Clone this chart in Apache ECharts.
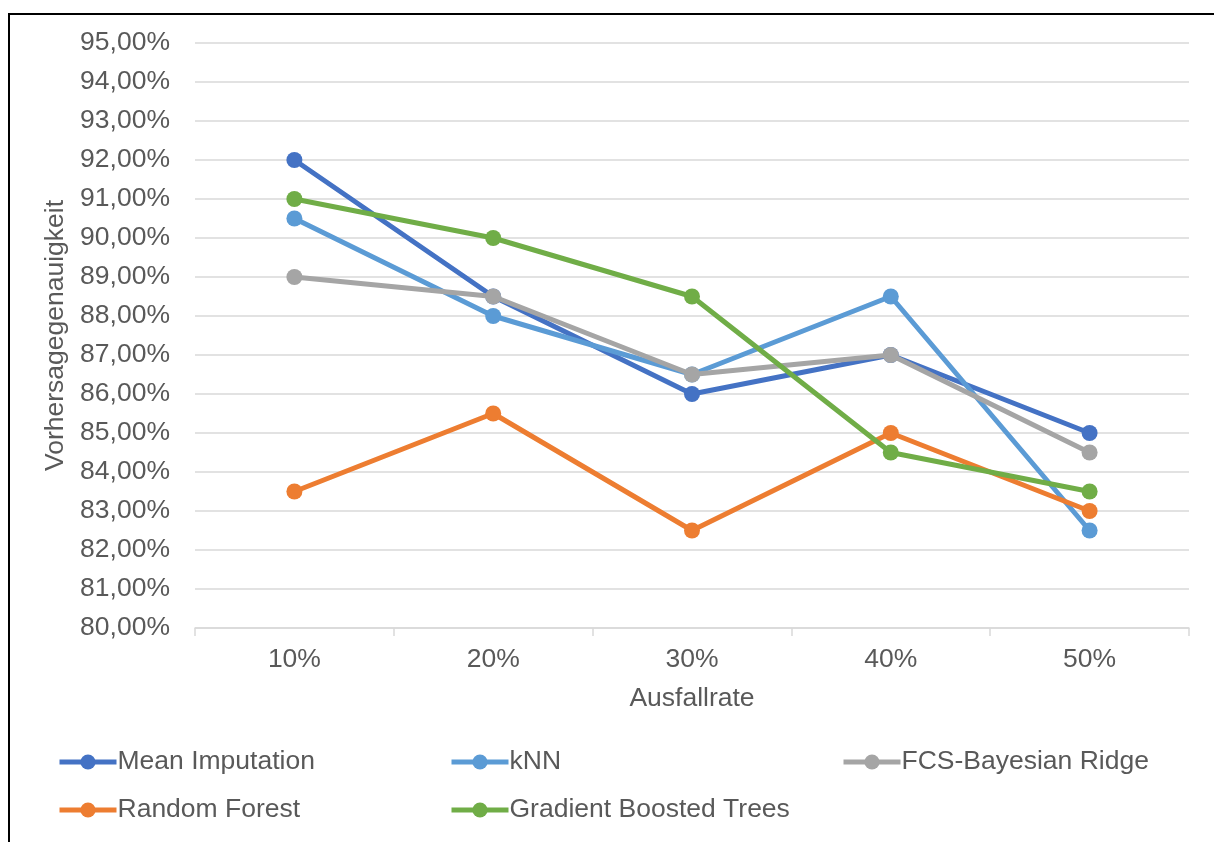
<!DOCTYPE html>
<html>
<head>
<meta charset="utf-8">
<script src="https://cdn.jsdelivr.net/npm/echarts@6/dist/echarts.min.js"></script>
<style>
  html, body { margin: 0; padding: 0; background: #fff; }
  #chart { width: 1214px; height: 842px; }
</style>
</head>
<body>
<div id="chart"></div>
<script>
// Dropout rates on the x axis
const categories = ['10%', '20%', '30%', '40%', '50%'];

// Prediction accuracy (%) per imputation method
const meanImputation = [92.0, 88.5, 86.0, 87.0, 85.0];
const knn = [90.5, 88.0, 86.5, 88.5, 82.5];
const fcsBayesianRidge = [89.0, 88.5, 86.5, 87.0, 84.5];
const randomForest = [83.5, 85.5, 82.5, 85.0, 83.0];
const gradientBoostedTrees = [91.0, 90.0, 88.5, 84.5, 83.5];

const seriesNames = ['Mean Imputation', 'kNN', 'FCS-Bayesian Ridge', 'Random Forest', 'Gradient Boosted Trees'];
const seriesColors = ['#4472C4', '#5B9BD5', '#A5A5A5', '#ED7D31', '#70AD47'];
const seriesValues = [meanImputation, knn, fcsBayesianRidge, randomForest, gradientBoostedTrees];

const FONT = '"Liberation Sans", Arial, sans-serif';
const FS = 26.5;
const TEXT = '#595959';
const GRID = '#D9D9D9';

const chart = echarts.init(document.getElementById('chart'), null, { renderer: 'canvas' });

// One legend block per entry so the entries sit in fixed columns
function makeLegend(name, left, top) {
  return {
    data: [name],
    left: left,
    top: top,
    orient: 'horizontal',
    itemWidth: 57,
    itemHeight: 19,
    padding: 0,
    selectedMode: false,
    textStyle: { fontFamily: FONT, fontSize: FS, color: TEXT, lineHeight: 30, padding: [0, 0, 0, -4] },
    lineStyle: { width: 5 }
  };
}

const option = {
  backgroundColor: '#ffffff',
  animation: false,
  graphic: [{
    type: 'rect',
    shape: { x: 9, y: 14, width: 1400, height: 1000 },
    style: { fill: 'none', stroke: '#000000', lineWidth: 2 },
    silent: true,
    z: 100
  }],
  legend: [
    makeLegend(seriesNames[0], 57, 747),
    makeLegend(seriesNames[1], 449, 747),
    makeLegend(seriesNames[2], 841, 747),
    makeLegend(seriesNames[3], 57, 795),
    makeLegend(seriesNames[4], 449, 795)
  ],
  grid: { left: 195, right: 25, top: 43, bottom: 214, containLabel: false },
  xAxis: {
    type: 'category',
    data: categories,
    boundaryGap: true,
    name: 'Ausfallrate',
    nameLocation: 'middle',
    nameGap: 57,
    nameTextStyle: { fontFamily: FONT, fontSize: FS, color: TEXT },
    axisLine: { show: true, lineStyle: { color: GRID, width: 1.5 } },
    axisTick: { show: true, alignWithLabel: false, length: 8, lineStyle: { color: GRID, width: 1.5 } },
    axisLabel: { fontFamily: FONT, fontSize: FS, color: TEXT, margin: 18 },
    splitLine: { show: false }
  },
  yAxis: {
    type: 'value',
    min: 80,
    max: 95,
    interval: 1,
    name: 'Vorhersagegenauigkeit',
    nameLocation: 'middle',
    nameRotate: 90,
    nameGap: 122,
    nameTextStyle: { fontFamily: FONT, fontSize: FS, color: TEXT },
    axisLine: { show: false },
    axisTick: { show: false },
    axisLabel: {
      fontFamily: FONT, fontSize: FS, color: TEXT, margin: 25,
      formatter: v => v.toFixed(2).replace('.', ',') + '%'
    },
    splitLine: { show: true, lineStyle: { color: GRID, width: 1.5 } }
  },
  series: seriesNames.map((name, i) => ({
    name: name,
    type: 'line',
    data: seriesValues[i],
    color: seriesColors[i],
    symbol: 'circle',
    symbolSize: 16,
    showSymbol: true,
    lineStyle: { width: 5, color: seriesColors[i] },
    itemStyle: { color: seriesColors[i] },
    z: 2 + i
  }))
};

chart.setOption(option);
</script>
</body>
</html>
